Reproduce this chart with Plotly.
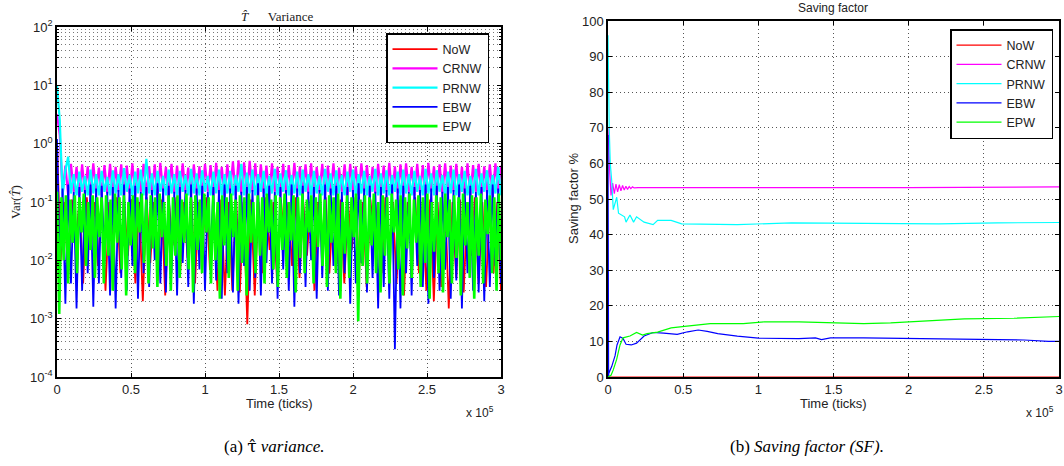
import numpy as np
import plotly.graph_objects as go

# ---------------- Data: (a) variance of T-hat (log scale) ----------------
var_now = [
    1.0, 0.01, 0.1, 0.006, 0.11, 0.02, 0.1, 0.004, 0.12, 0.015, 0.1, 0.008, 0.11, 0.003, 0.1, 0.02,
    0.12, 0.006, 0.1, 0.012, 0.11, 0.004, 0.1, 0.002, 0.12, 0.009, 0.1, 0.0045, 0.11, 0.0025, 0.1, 0.018,
    0.12, 0.006, 0.1, 0.011, 0.11, 0.004, 0.1, 0.02, 0.12, 0.007, 0.1, 0.003, 0.11, 0.0025, 0.1, 0.003,
    0.12, 0.0028, 0.1, 0.0008, 0.11, 0.0025, 0.1, 0.006, 0.12, 0.015, 0.1, 0.004, 0.11, 0.02, 0.1, 0.008,
    0.12, 0.005, 0.1, 0.012, 0.11, 0.003, 0.1, 0.02, 0.12, 0.006, 0.1, 0.009, 0.11, 0.004, 0.1, 0.015,
    0.12, 0.007, 0.1, 0.0035, 0.11, 0.02, 0.1, 0.006, 0.12, 0.011, 0.1, 0.004, 0.11, 0.0025, 0.1, 0.018,
    0.12, 0.006, 0.1, 0.003, 0.11, 0.002, 0.1, 0.0035, 0.12, 0.0015, 0.1, 0.005, 0.11, 0.0028, 0.1, 0.012,
    0.12, 0.004, 0.1, 0.0035, 0.11, 0.006, 0.1, 0.003,
]
var_crnw = [
    3.2, 1.4, 0.14, 0.42, 0.13, 0.45, 0.15, 0.4, 0.13, 0.44, 0.14, 0.41, 0.13, 0.46, 0.15, 0.39, 0.13, 0.43, 0.14, 0.45,
    0.13, 0.4, 0.15, 0.44, 0.13, 0.42, 0.14, 0.46, 0.13, 0.38, 0.15, 0.45, 0.13, 0.41, 0.14, 0.44, 0.13, 0.47, 0.15, 0.4,
    0.13, 0.45, 0.14, 0.42, 0.13, 0.46, 0.15, 0.39, 0.13, 0.44, 0.14, 0.41, 0.13, 0.45, 0.15, 0.43, 0.13, 0.47, 0.14, 0.4,
    0.13, 0.44, 0.15, 0.5, 0.13, 0.52, 0.14, 0.48, 0.13, 0.51, 0.15, 0.46, 0.13, 0.44, 0.14, 0.42, 0.13, 0.46, 0.15, 0.4,
    0.13, 0.45, 0.14, 0.43, 0.13, 0.47, 0.15, 0.41, 0.13, 0.44, 0.14, 0.46, 0.13, 0.4, 0.15, 0.45, 0.13, 0.42, 0.14, 0.46,
    0.13, 0.39, 0.15, 0.44, 0.13, 0.45, 0.14, 0.41, 0.13, 0.46, 0.15, 0.43, 0.13, 0.4, 0.14, 0.45, 0.13, 0.42, 0.15, 0.47,
    0.13, 0.41, 0.14, 0.44, 0.13, 0.46, 0.15, 0.4, 0.13, 0.45, 0.14, 0.43, 0.13, 0.47, 0.15, 0.41, 0.13, 0.44, 0.14, 0.46,
    0.13, 0.42, 0.15, 0.45, 0.13, 0.4, 0.14, 0.46, 0.13, 0.43, 0.15, 0.45, 0.13, 0.41, 0.14, 0.44, 0.13, 0.46, 0.15, 0.42,
]
var_prnw = [
    10.0, 2.5, 0.13, 0.35, 0.6, 0.14, 0.3, 0.13, 0.33, 0.15, 0.28, 0.13, 0.36, 0.14, 0.3, 0.13, 0.34, 0.15, 0.27, 0.13,
    0.35, 0.14, 0.3, 0.13, 0.38, 0.15, 0.29, 0.13, 0.33, 0.14, 0.36, 0.13, 0.55, 0.14, 0.31, 0.13, 0.34, 0.15, 0.28, 0.13,
    0.36, 0.14, 0.3, 0.13, 0.34, 0.15, 0.29, 0.13, 0.37, 0.14, 0.31, 0.13, 0.35, 0.15, 0.28, 0.13, 0.33, 0.14, 0.36, 0.13,
    0.3, 0.14, 0.34, 0.13, 0.29, 0.15, 0.45, 0.13, 0.32, 0.14, 0.36, 0.13, 0.3, 0.15, 0.34, 0.13, 0.28, 0.14, 0.37, 0.13,
    0.31, 0.15, 0.35, 0.13, 0.29, 0.14, 0.33, 0.13, 0.36, 0.15, 0.3, 0.13, 0.34, 0.14, 0.28, 0.13, 0.37, 0.15, 0.31, 0.13,
    0.35, 0.14, 0.29, 0.13, 0.33, 0.15, 0.36, 0.13, 0.3, 0.14, 0.34, 0.13, 0.28, 0.15, 0.37, 0.13, 0.31, 0.14, 0.35, 0.13,
    0.29, 0.15, 0.33, 0.13, 0.36, 0.14, 0.3, 0.13, 0.34, 0.15, 0.28, 0.13, 0.37, 0.14, 0.31, 0.13, 0.35, 0.15, 0.29, 0.13,
    0.33, 0.14, 0.36, 0.13, 0.3, 0.15, 0.34, 0.13, 0.28, 0.14, 0.37, 0.13, 0.31, 0.15, 0.35, 0.13, 0.29, 0.14, 0.4, 0.13,
]
var_ebw = [
    1.2, 0.008, 0.17, 0.0018, 0.2, 0.004, 0.15, 0.0015, 0.18, 0.003, 0.16, 0.006, 0.2, 0.0016, 0.17, 0.004, 0.19, 0.009, 0.15, 0.0025,
    0.18, 0.0015, 0.16, 0.005, 0.2, 0.003, 0.17, 0.008, 0.19, 0.0022, 0.15, 0.006, 0.18, 0.0035, 0.16, 0.01, 0.21, 0.004, 0.17, 0.0028,
    0.19, 0.006, 0.15, 0.0025, 0.18, 0.009, 0.16, 0.0035, 0.2, 0.0018, 0.17, 0.007, 0.19, 0.003, 0.15, 0.012, 0.18, 0.0045, 0.16, 0.0022,
    0.2, 0.006, 0.17, 0.0028, 0.19, 0.0018, 0.15, 0.008, 0.18, 0.003, 0.16, 0.005, 0.21, 0.0025, 0.17, 0.009, 0.19, 0.004, 0.15, 0.0022,
    0.18, 0.007, 0.16, 0.003, 0.2, 0.0016, 0.17, 0.006, 0.19, 0.0035, 0.15, 0.01, 0.18, 0.0022, 0.16, 0.005, 0.2, 0.003, 0.17, 0.008,
    0.19, 0.0025, 0.15, 0.006, 0.18, 0.0018, 0.16, 0.004, 0.21, 0.009, 0.17, 0.0028, 0.19, 0.005, 0.15, 0.0015, 0.18, 0.0035, 0.16, 0.0022,
    0.2, 0.0003, 0.17, 0.0015, 0.19, 0.006, 0.15, 0.0025, 0.18, 0.008, 0.16, 0.0035, 0.2, 0.0018, 0.17, 0.005, 0.19, 0.003, 0.15, 0.007,
    0.18, 0.0022, 0.16, 0.0045, 0.2, 0.0015, 0.17, 0.006, 0.19, 0.003, 0.15, 0.0028, 0.18, 0.002, 0.16, 0.0035, 0.2, 0.008, 0.17, 0.004,
]
var_epw = [
    0.15, 0.0012, 0.12, 0.01, 0.13, 0.004, 0.11, 0.02, 0.13, 0.006, 0.12, 0.03, 0.14, 0.008, 0.1, 0.015, 0.13, 0.005, 0.12, 0.025,
    0.12, 0.004, 0.13, 0.012, 0.11, 0.003, 0.14, 0.02, 0.12, 0.007, 0.13, 0.0025, 0.1, 0.018, 0.13, 0.006, 0.12, 0.03, 0.14, 0.009,
    0.11, 0.004, 0.13, 0.016, 0.12, 0.0035, 0.14, 0.025, 0.1, 0.008, 0.13, 0.003, 0.12, 0.012, 0.13, 0.005, 0.11, 0.02, 0.14, 0.007,
    0.12, 0.0028, 0.13, 0.015, 0.11, 0.006, 0.14, 0.03, 0.12, 0.004, 0.13, 0.01, 0.1, 0.0022, 0.13, 0.018, 0.12, 0.005, 0.14, 0.025,
    0.11, 0.003, 0.13, 0.009, 0.12, 0.0025, 0.14, 0.02, 0.1, 0.006, 0.13, 0.012, 0.12, 0.004, 0.14, 0.03, 0.11, 0.007, 0.13, 0.0035,
    0.12, 0.015, 0.14, 0.005, 0.1, 0.022, 0.13, 0.0028, 0.12, 0.011, 0.14, 0.006, 0.11, 0.03, 0.13, 0.004, 0.12, 0.017, 0.14, 0.008,
    0.11, 0.0035, 0.13, 0.02, 0.12, 0.006, 0.14, 0.0022, 0.1, 0.013, 0.13, 0.005, 0.12, 0.025, 0.14, 0.0009, 0.11, 0.008, 0.13, 0.004,
    0.12, 0.018, 0.14, 0.006, 0.1, 0.0028, 0.13, 0.012, 0.12, 0.004, 0.14, 0.03, 0.11, 0.007, 0.13, 0.0025, 0.12, 0.016, 0.14, 0.005,
    0.11, 0.02, 0.13, 0.0035, 0.12, 0.009, 0.14, 0.0022, 0.1, 0.014, 0.13, 0.006, 0.12, 0.0028, 0.14, 0.025, 0.11, 0.004, 0.13, 0.011,
    0.12, 0.0025, 0.14, 0.018, 0.1, 0.005, 0.13, 0.0022, 0.12, 0.012, 0.14, 0.004, 0.11, 0.028, 0.13, 0.006, 0.12, 0.003, 0.14, 0.01,
]

# ---------------- Data: (b) saving factor (%) ----------------
sf_now_t = [0, 77000, 300000]
sf_now = [0, 0, 0]

sf_crnw_t = [0, 600, 1200, 2000, 3100, 4200, 5300, 6400, 7500, 8600, 9700, 10800, 11900, 13000,
             14100, 15200, 16300, 17400, 20000, 40000, 60000, 80000, 100000, 130000, 160000,
             200000, 240000, 270000, 300000]
sf_crnw = [70, 62, 57, 51, 54.5, 51.5, 54.2, 52, 54, 52.3, 53.8, 52.5, 53.6, 52.7,
           53.5, 52.9, 53.4, 53.1, 53.2, 53.2, 53.1, 53.2, 53.2, 53.3, 53.2,
           53.2, 53.2, 53.3, 53.4]

sf_prnw_t = [0, 300, 800, 1500, 2500, 3500, 5800, 7000, 9000, 11000, 12000, 14600, 17000, 19000,
             24000, 30000, 33000, 42000, 49000, 64000, 86000, 122000, 148000, 192000, 220000,
             259000, 292000, 300000]
sf_prnw = [96, 76, 70, 60, 55, 47, 50.5, 46, 45.5, 45, 43.5, 45.5, 43.5, 45,
           43.5, 42.8, 44, 44, 43, 43, 42.8, 43.3, 43.2, 43.2, 43,
           43.3, 43.4, 43.4]

sf_ebw_t = [0, 150, 400, 500, 2500, 4700, 6000, 8000, 10000, 12000, 15500, 19000, 24000, 30000,
            37000, 46000, 53000, 60000, 66000, 73000, 86000, 100000, 127000, 138000, 142000,
            148000, 170000, 204000, 226000, 255000, 277000, 293000, 300000]
sf_ebw = [68, 30, 0, 1, 3, 6, 9, 11.3, 10.8, 9.2, 9, 9.5, 11.5, 12.5,
          12.3, 12, 12.7, 13.2, 12.8, 12.2, 11.5, 10.9, 10.8, 11, 10.5,
          11, 11, 10.8, 10.6, 10.6, 10.4, 10, 10]

sf_epw_t = [0, 2000, 3500, 5800, 8000, 10000, 14600, 19000, 23000, 26000, 33000, 42000, 51000,
            60000, 68000, 90000, 104000, 127000, 148000, 170000, 188000, 215000, 237000,
            270000, 292000, 300000]
sf_epw = [0, 0.5, 2, 5, 9, 11, 11.5, 12.5, 11.8, 12.2, 12.6, 13.8, 14.2,
          14.6, 15, 15, 15.5, 15.5, 15.2, 15, 15.2, 15.7, 16.3,
          16.5, 17, 17]

names = ["NoW", "CRNW", "PRNW", "EBW", "EPW"]
colors = ["#ff0000", "#ff00ff", "#00ffff", "#0000ff", "#00ff00"]
x_tickvals = [0, 50000, 100000, 150000, 200000, 250000, 300000]
x_ticktext = ["0", "0.5", "1", "1.5", "2", "2.5", "3"]
log_tickvals = [1e-4, 1e-3, 1e-2, 1e-1, 1e0, 1e1, 1e2]
log_ticktext = ["10<sup>-4</sup>", "10<sup>-3</sup>", "10<sup>-2</sup>", "10<sup>-1</sup>",
                "10<sup>0</sup>", "10<sup>1</sup>", "10<sup>2</sup>"]
sf_tickvals = list(range(0, 101, 10))

# The page body margin is removed (see post_script), so the figure fills the window
W, H = 1064, 466
def px(x):
    return x / W
def py(y):
    return (H - y) / H

fig = go.Figure()

var_series = [var_now, var_crnw, var_prnw, var_ebw, var_epw]
var_widths = [1.8, 2.2, 2.2, 1.8, 2.6]
for name, col, vals, lw in zip(names, colors, var_series, var_widths):
    t = np.linspace(0, 300000, len(vals))
    fig.add_trace(go.Scatter(x=t, y=vals, mode="lines", name=name,
                             line=dict(color=col, width=lw, simplify=False),
                             xaxis="x", yaxis="y", legend="legend"))

sf_series = [(sf_now_t, sf_now), (sf_crnw_t, sf_crnw), (sf_prnw_t, sf_prnw),
             (sf_ebw_t, sf_ebw), (sf_epw_t, sf_epw)]
for name, col, (t, vals) in zip(names, colors, sf_series):
    fig.add_trace(go.Scatter(x=t, y=vals, mode="lines", name=name,
                             line=dict(color=col, width=1.2),
                             xaxis="x2", yaxis="y2", legend="legend2"))

minor_vals = [k * 10 ** e for e in range(-4, 2) for k in range(2, 10)]
font_tick = dict(family="Liberation Sans, Arial", size=13, color="#222")
axis_common = dict(showline=True, linecolor="black", linewidth=1.5, mirror="allticks",
                   ticks="inside", ticklen=4, tickcolor="black", zeroline=False,
                   automargin=False,
                   tickfont=font_tick, showgrid=True, gridcolor="#555", griddash="1px,3px",
                   gridwidth=1)

leg_common = dict(bgcolor="white", bordercolor="black", borderwidth=1.5,
                  font=dict(family="Liberation Sans, Arial", size=12.5, color="#222"),
                  itemwidth=45, tracegroupgap=0)

fig.update_layout(
    width=W, height=H,
    margin=dict(l=0, r=0, t=0, b=0, autoexpand=False),
    paper_bgcolor="white", plot_bgcolor="white",
    showlegend=True,
    xaxis=dict(domain=[px(57), px(501)], range=[0, 300000], tickvals=x_tickvals,
               ticktext=x_ticktext, anchor="y", **axis_common),
    yaxis=dict(domain=[py(377), py(27)], type="log", range=[-4, 2], tickvals=log_tickvals,
               ticktext=log_ticktext, anchor="x",
               minor=dict(tickvals=minor_vals, showgrid=True, gridcolor="#777",
                          griddash="1px,3px", ticks="inside", ticklen=2, tickcolor="black"),
               **axis_common),
    xaxis2=dict(domain=[px(608), px(1059)], range=[0, 300000], tickvals=x_tickvals,
                ticktext=x_ticktext, anchor="y2", **axis_common),
    yaxis2=dict(domain=[py(377), py(21)], range=[0, 100], tickvals=sf_tickvals,
                anchor="x2", **axis_common),
    legend=dict(x=px(489), xanchor="right", y=py(33), yanchor="top", **leg_common),
    legend2=dict(x=px(1053), xanchor="right", y=py(29), yanchor="top", **leg_common),
)

serif = "Liberation Serif, DejaVu Serif, serif"
sans = "Liberation Sans, Arial"
ann = [
    dict(x=px(277), y=py(17),
         text="<i>T\u0302</i>&nbsp;&nbsp;&nbsp;&nbsp;&nbsp;&nbsp;Variance",
         font=dict(family=serif, size=13, color="#222")),
    dict(x=px(833), y=py(8), text="Saving factor", font=dict(family=sans, size=12, color="#222")),
    dict(x=px(279), y=py(403), text="Time (ticks)", font=dict(family=sans, size=13, color="#222")),
    dict(x=px(833), y=py(403), text="Time (ticks)", font=dict(family=sans, size=13, color="#222")),
    dict(x=px(480), y=py(412), text="x 10<sup>5</sup>", font=dict(family=sans, size=12, color="#222")),
    dict(x=px(1040), y=py(412), text="x 10<sup>5</sup>", font=dict(family=sans, size=12, color="#222")),
    dict(x=px(15), y=py(202), text="Var(<i>T\u0302</i>)", textangle=-90, font=dict(family=serif, size=13, color="#222")),
    dict(x=px(574), y=py(199), text="Saving factor %", textangle=-90, font=dict(family=sans, size=13, color="#222")),
    dict(x=px(274), y=py(446),
         text="(a) <span style=\"font-family:'DejaVu Serif'\">\u03c4\u0302</span>&nbsp;<i>variance.</i>",
         font=dict(family=serif, size=17, color="black")),
    dict(x=px(807), y=py(446), text="(b) <i>Saving factor (SF).</i>", font=dict(family=serif, size=17, color="black")),
]
for a in ann:
    fig.add_annotation(xref="paper", yref="paper", showarrow=False, xanchor="center", yanchor="middle", **a)

fig.write_html("out.html",
               config={"displayModeBar": False},
               post_script="document.body.style.margin='0';document.body.style.overflow='hidden';")
